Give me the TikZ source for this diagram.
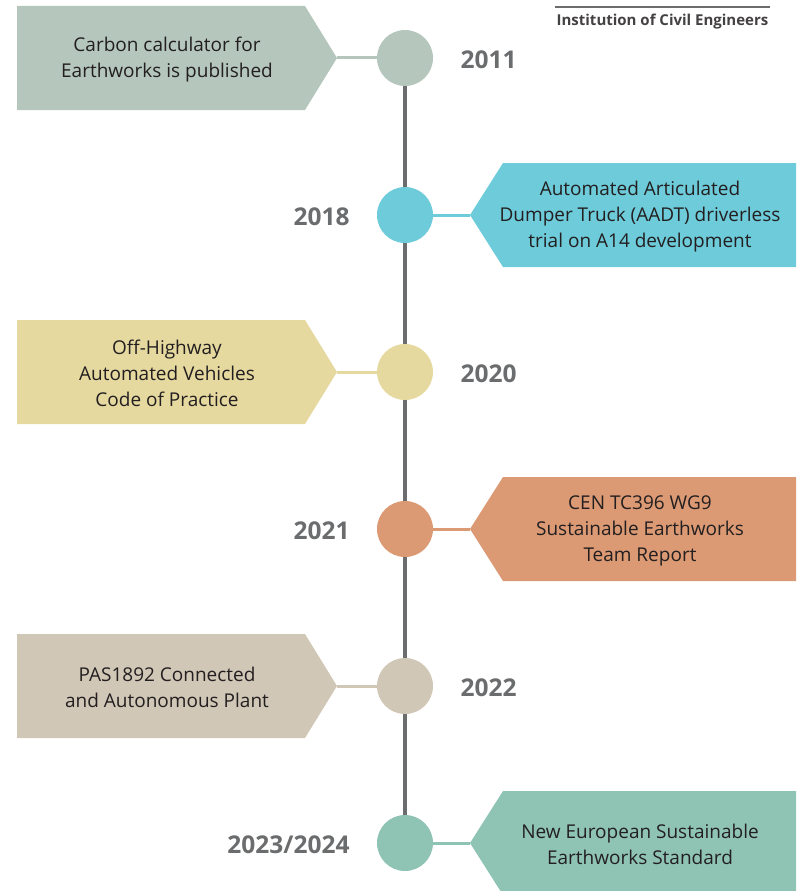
\documentclass[tikz,border=0pt]{standalone}
\usepackage{fontspec}
\setmainfont{Open Sans}
\begin{document}
\begin{tikzpicture}[x=1pt,y=-1pt,
  dot/.style={circle,fill=#1,minimum size=56pt,inner sep=0pt},
  conn/.style={draw=#1,line width=3pt},
  boxtext/.style={align=center,text=textdark,font=\fontsize{19}{26}\selectfont},
  yeartext/.style={text=yeargray,font=\fontsize{24.5}{28}\selectfont\bfseries},
  spine/.style={draw=yeargray,line width=4pt}]
\definecolor{textdark}{HTML}{231F20}
\definecolor{yeargray}{HTML}{6A6C6D}
\definecolor{cA}{HTML}{B5C6BC}
\definecolor{cB}{HTML}{6DCBDA}
\definecolor{cC}{HTML}{E6D9A0}
\definecolor{cD}{HTML}{DB9A74}
\definecolor{cE}{HTML}{D1C7B7}
\definecolor{cF}{HTML}{8FC4B5}
\useasboundingbox (0,0) rectangle (796,891);
\clip (0,0) rectangle (796,891);
% header
\coordinate (hl) at (555,7);
\coordinate (hr) at (770,7);
\draw[draw=yeargray,line width=1.5pt] (hl) -- (hr);
\node[text=textdark!85,font=\fontsize{15}{17}\selectfont\bfseries] (ice) at (662.5,21.5) {Institution of Civil Engineers};
% rows
\newcommand{\leftrow}[6]{%
  \fill[#2] (17,#1-52) -- (305,#1-52) -- (337,#1) -- (305,#1+52) -- (17,#1+52) -- cycle;
  \coordinate (#3tip) at (337,#1);
  \node[dot=#2] (#3) at (405,#1) {};
  \draw[conn=#2] (#3tip) -- (#3.west);
  \node[boxtext] (#3box) at (167,#1+1.5) {#4};
  \node[yeartext,anchor=west] (#3year) at (457,#1+2) {#5};
}
\newcommand{\rightrow}[6]{%
  \fill[#2] (800,#1-52) -- (503,#1-52) -- (470,#1) -- (503,#1+52) -- (800,#1+52) -- cycle;
  \coordinate (#3tip) at (470,#1);
  \node[dot=#2] (#3) at (405,#1) {};
  \draw[conn=#2] (#3tip) -- (#3.east);
  \node[boxtext] (#3box) at (640,#1+1.5) {#4};
  \node[yeartext,anchor=east] (#3year) at (353,#1+2) {#5};
}
\leftrow{58}{cA}{n1}{Carbon calculator for\\Earthworks is published}{2011}{}
\rightrow{215}{cB}{n2}{Automated Articulated\\Dumper Truck (AADT) driverless\\trial on A14 development}{2018}{}
\leftrow{372}{cC}{n3}{Off-Highway\\Automated Vehicles\\Code of Practice}{2020}{}
\rightrow{529}{cD}{n4}{CEN TC396 WG9\\Sustainable Earthworks\\Team Report}{2021}{}
\leftrow{686}{cE}{n5}{PAS1892 Connected\\and Autonomous Plant}{2022}{}
\rightrow{843}{cF}{n6}{New European Sustainable\\Earthworks Standard}{2023/2024}{}
% spine
\draw[spine] (n1.south) -- (n2.north);
\draw[spine] (n2.south) -- (n3.north);
\draw[spine] (n3.south) -- (n4.north);
\draw[spine] (n4.south) -- (n5.north);
\draw[spine] (n5.south) -- (n6.north);
\end{tikzpicture}
\end{document}
